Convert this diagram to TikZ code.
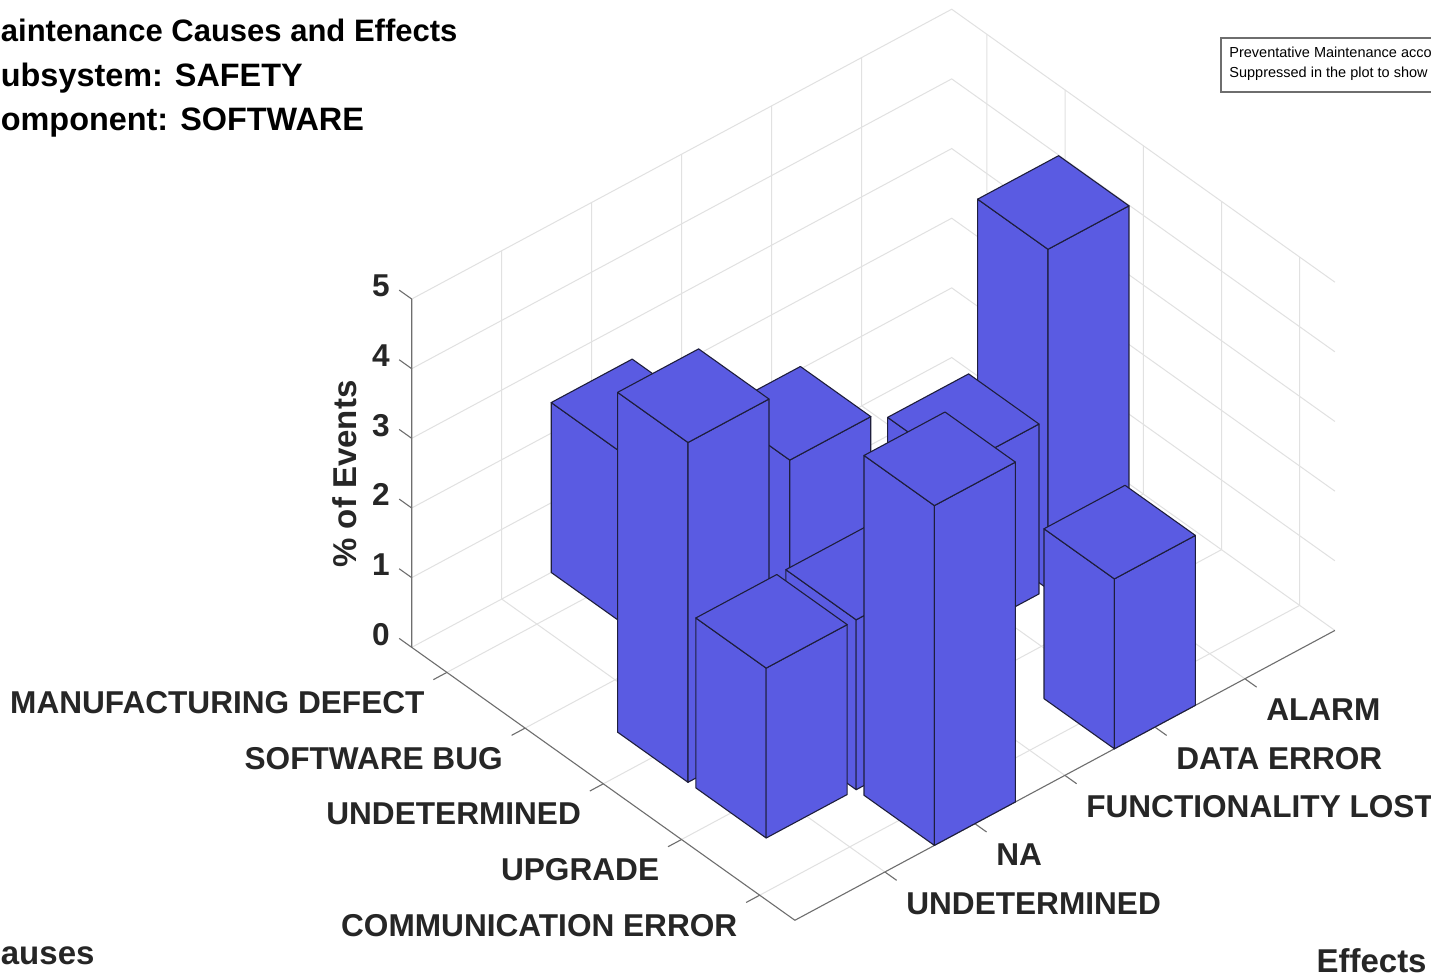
\documentclass[tikz,border=0pt]{standalone}
\usepackage{fontspec}
\setmainfont{Liberation Sans}
\definecolor{barblue}{RGB}{90,91,226}
\definecolor{baredge}{RGB}{30,30,60}
\definecolor{gridgray}{RGB}{225,225,225}
\definecolor{axisgray}{RGB}{110,110,110}
\definecolor{ticktext}{RGB}{38,38,38}
\tikzset{
  gridline/.style={draw=gridgray, line width=0.5pt},
  axisline/.style={draw=axisgray, line width=0.55pt},
  barface/.style={fill=barblue, draw=baredge, line width=0.55pt, line join=round},
  ticklabel/.style={font=\fontsize{15.8}{18}\selectfont\bfseries, text=ticktext, inner sep=0pt},
  axislabel/.style={font=\fontsize{16.5}{20}\selectfont\bfseries, text=ticktext, inner sep=0pt},
  titletext/.style={font=\fontsize{15.5}{19}\selectfont\bfseries, text=black, inner sep=0pt},
  subtitletext/.style={font=\fontsize{16.2}{19}\selectfont\bfseries, text=black, inner sep=0pt},
  legendtext/.style={font=\fontsize{7.25}{9}\selectfont, text=black, inner sep=0pt}
}
\newcommand\drawbar[3]{%
  \pgfmathsetmacro\bUlo{#1-0.45}\pgfmathsetmacro\bUhi{#1+0.45}%
  \pgfmathsetmacro\bVlo{#2-0.45}\pgfmathsetmacro\bVhi{#2+0.45}%
  \filldraw[barface] (\bUlo,\bVlo,0) -- (\bUhi,\bVlo,0) -- (\bUhi,\bVlo,#3) -- (\bUlo,\bVlo,#3) -- cycle;
  \filldraw[barface] (\bUhi,\bVlo,0) -- (\bUhi,\bVhi,0) -- (\bUhi,\bVhi,#3) -- (\bUhi,\bVlo,#3) -- cycle;
  \filldraw[barface] (\bUlo,\bVlo,#3) -- (\bUhi,\bVlo,#3) -- (\bUhi,\bVhi,#3) -- (\bUlo,\bVhi,#3) -- cycle;
}
\begin{document}
\begin{tikzpicture}[x=0.5pt,y=-0.5pt]
\useasboundingbox (0,0) rectangle (1431,978);
\clip (0,0) rectangle (1431,978);
\fill[white] (0,0) rectangle (1431,978);

\begin{scope}[shift={(368.7,616.7)}, x={(39.1pt,-27.85pt)}, y={(45pt,24.15pt)}, z={(0pt,34.83pt)}]
  % grid
  \draw[gridline] (0.55,0,0) -- (0.55,6,0) -- (5.45,6,0);
  \foreach \k in {1,...,5} {
    \draw[gridline] (\k,0,0) -- (\k,6,0) -- (\k,6,5);
    \draw[gridline] (5.45,\k,0) -- (0.55,\k,0) -- (0.55,\k,5);
    \draw[gridline] (0.55,0,\k) -- (0.55,6,\k) -- (5.45,6,\k);
  }
  % axes
  \draw[axisline] (0.55,0,5) -- (0.55,0,0) -- (5.45,0,0) -- (5.45,6,0);
  \foreach \k in {0,...,5} \draw[axisline] (0.55,0,\k) -- (0.39,0,\k);
  \foreach \k in {1,...,5} \draw[axisline] (\k,0,0) -- (\k,-0.15,0);
  \foreach \k in {1,...,5} \draw[axisline] (5.45,\k,0) -- (5.6,\k,0);
  % bars (back to front)
  \drawbar{3}{5}{4.878}
  \drawbar{3}{4}{2.439}
  \drawbar{1}{2}{2.439}
  \drawbar{2}{3}{2.439}
  \drawbar{5}{4}{2.439}
  \drawbar{3}{1}{4.878}
  \drawbar{4}{2}{2.439}
  \drawbar{5}{2}{4.878}
  \drawbar{4}{1}{2.439}
\end{scope}

% z tick labels
\foreach \k/\yy in {0/645.3,1/575.6,2/506.0,3/436.3,4/366.7,5/297.0}
  \node[ticklabel, anchor=base east] (zt\k) at (390,\yy) {\k};

% cause labels
\node[ticklabel, anchor=base east] (c1) at (424.9,713.4) {MANUFACTURING DEFECT};
\node[ticklabel, anchor=base east] (c2) at (503.1,769.1) {SOFTWARE BUG};
\node[ticklabel, anchor=base east] (c3) at (581.3,824.8) {UNDETERMINED};
\node[ticklabel, anchor=base east] (c4) at (659.5,880.5) {UPGRADE};
\node[ticklabel, anchor=base east] (c5) at (737.7,936.2) {COMMUNICATION ERROR};

% effect labels
\node[ticklabel, anchor=base west] (e1) at (905.9,914.0) {UNDETERMINED};
\node[ticklabel, anchor=base west] (e2) at (995.9,865.7) {NA};
\node[ticklabel, anchor=base west] (e3) at (1085.9,817.4) {FUNCTIONALITY LOST};
\node[ticklabel, anchor=base west] (e4) at (1175.9,769.1) {DATA ERROR};
\node[ticklabel, anchor=base west] (e5) at (1265.9,720.8) {ALARM};

% axis labels
\node[axislabel, rotate=90] (zlab) at (345,474) {\% of Events};
\node[axislabel, anchor=base west] (ylab) at (0.5,964) {auses};
\node[axislabel, anchor=base east] (xlab) at (1427,972) {Effects};

% title
\node[titletext, anchor=base west] (t1) at (0.5,42) {aintenance Causes and Effects};
\node[subtitletext, anchor=base west] (t2) at (0.5,86.5) {ubsystem: SAFETY};
\node[subtitletext, anchor=base west] (t3) at (0.5,130.5) {omponent: SOFTWARE};

% legend box
\draw[draw=axisgray, line width=0.6pt, fill=white] (1221,38) rectangle (1460,92);
\node[legendtext, anchor=base west] (lg1) at (1229,57.5) {Preventative Maintenance acco};
\node[legendtext, anchor=base west] (lg2) at (1229,77.5) {Suppressed in the plot to show};
\end{tikzpicture}
\end{document}
